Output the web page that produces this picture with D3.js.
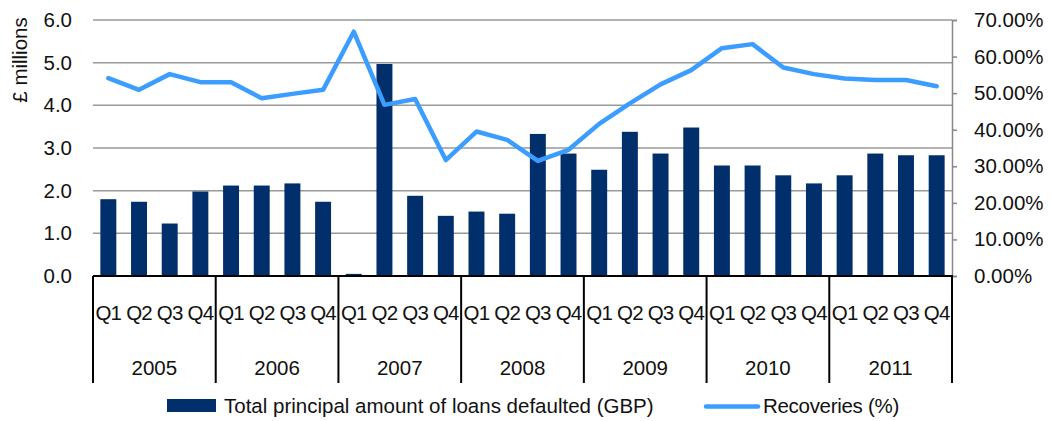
<!DOCTYPE html>
<html><head><meta charset="utf-8">
<script src="https://cdn.jsdelivr.net/npm/d3@7"></script>
<style>body{margin:0;background:#fff;}svg{display:block;font-family:"Liberation Sans",Arial,sans-serif;}</style>
</head><body><svg id="c" width="1054" height="421"></svg>
<script>
const years = ["2005","2006","2007","2008","2009","2010","2011"];
const quarters = ["Q1","Q2","Q3","Q4"];
const defaulted = [1.80,1.74,1.23,1.98, 2.12,2.12,2.17,1.74, 0.05,4.97,1.88,1.41, 1.51,1.46,3.33,2.87, 2.49,3.38,2.87,3.48, 2.59,2.59,2.36,2.17, 2.36,2.87,2.83,2.83];
const recoveries = [54.1,50.9,55.2,53.0, 53.0,48.6,49.8,50.9, 66.8,46.8,48.4,31.7, 39.5,37.2,31.5,34.5, 41.6,47.2,52.4,56.3, 62.3,63.4,57.0,55.2, 54.0,53.6,53.6,51.9];
const leftTicks = [0,1,2,3,4,5,6];
const rightTicks = [0,10,20,30,40,50,60,70];
const seriesNames = ["Total principal amount of loans defaulted (GBP)","Recoveries (%)"];

const cats = [];
years.forEach(y => quarters.forEach(q => cats.push(y + "-" + q)));

const svg = d3.select("#c");
const L = 93, R = 952, T = 20, B = 276;
const x = d3.scaleBand().domain(cats).range([L, R]).paddingInner(0.48).paddingOuter(0.24);
const xc = d3.scaleBand().domain(cats).range([L, R]);
const yL = d3.scaleLinear().domain([0, 6]).range([B, T]);
const yR = d3.scaleLinear().domain([0, 70]).range([B, T]);
const xYear = d3.scaleBand().domain(years).range([L, R]);

const fontSize = 20.5;
const fam = "Liberation Sans, Arial, sans-serif";
// gridlines
svg.append("g").selectAll("line").data(leftTicks).join("line")
  .attr("x1", L).attr("x2", R).attr("y1", d => yL(d)).attr("y2", d => yL(d))
  .attr("stroke", "#999").attr("stroke-width", 1.5);

// left axis labels
const gl = svg.append("g").attr("transform", `translate(${L},0)`)
  .call(d3.axisLeft(yL).tickValues(leftTicks).tickFormat(d3.format(".1f")).tickSize(0).tickPadding(21));
gl.select(".domain").remove();
gl.selectAll("text").attr("font-size", fontSize).attr("fill", "#111").attr("font-family", fam);

// right axis
const gr = svg.append("g").attr("transform", `translate(${R},0)`)
  .call(d3.axisRight(yR).tickValues(rightTicks).tickFormat(d => d3.format(".2f")(d) + "%").tickSize(5).tickPadding(17));
gr.select(".domain").attr("stroke", "#888").attr("stroke-width", 1.5);
gr.selectAll(".tick line").attr("stroke", "#888").attr("stroke-width", 1.5);
gr.selectAll("text").attr("font-size", fontSize).attr("fill", "#111").attr("font-family", fam);

// bars
svg.append("g").selectAll("rect").data(defaulted).join("rect")
  .attr("x", (d, i) => x(cats[i])).attr("width", x.bandwidth())
  .attr("y", d => yL(d)).attr("height", d => B - yL(d))
  .attr("fill", "#002f6c");

// line
const line = d3.line().x((d, i) => xc(cats[i]) + xc.bandwidth() / 2).y(d => yR(d));
svg.append("path").datum(recoveries).attr("d", line)
  .attr("fill", "none").attr("stroke", "#3b9dff").attr("stroke-width", 4.5)
  .attr("stroke-linejoin", "round").attr("stroke-linecap", "round");

// x axis baseline
svg.append("line").attr("x1", L).attr("x2", R + 1).attr("y1", B).attr("y2", B)
  .attr("stroke", "#000").attr("stroke-width", 2);

// year separators
const seps = years.map(y => xYear(y)).concat([R]);
svg.append("g").selectAll("line").data(seps).join("line")
  .attr("x1", d => d).attr("x2", d => d).attr("y1", B).attr("y2", 383)
  .attr("stroke", "#000").attr("stroke-width", 2);

// quarter labels
svg.append("g").selectAll("text").data(cats).join("text")
  .attr("x", d => xc(d) + xc.bandwidth() / 2).attr("y", 320)
  .attr("text-anchor", "middle").attr("font-size", fontSize).attr("fill", "#111")
  .attr("letter-spacing", -0.8)
  .text(d => d.split("-")[1]);

// year labels
svg.append("g").selectAll("text").data(years).join("text")
  .attr("x", d => xYear(d) + xYear.bandwidth() / 2).attr("y", 375)
  .attr("text-anchor", "middle").attr("font-size", fontSize).attr("fill", "#111")
  .text(d => d);

// y title
svg.append("text").attr("transform", "translate(27,60) rotate(-90)")
  .attr("text-anchor", "middle").attr("font-size", fontSize).attr("fill", "#111")
  .text("£ millions");

// legend
const lg = svg.append("g");
lg.append("rect").attr("x", 167).attr("y", 399).attr("width", 49).attr("height", 13).attr("fill", "#002f6c");
lg.append("text").attr("x", 224).attr("y", 413).attr("font-size", fontSize).attr("fill", "#111")
  .attr("letter-spacing", 0).text(seriesNames[0]);
lg.append("line").attr("x1", 706).attr("x2", 758).attr("y1", 406.5).attr("y2", 406.5)
  .attr("stroke", "#3b9dff").attr("stroke-width", 4.5).attr("stroke-linecap", "round");
lg.append("text").attr("x", 763).attr("y", 413).attr("font-size", fontSize).attr("fill", "#111")
  .attr("letter-spacing", -0.3).text(seriesNames[1]);
</script></body></html>
